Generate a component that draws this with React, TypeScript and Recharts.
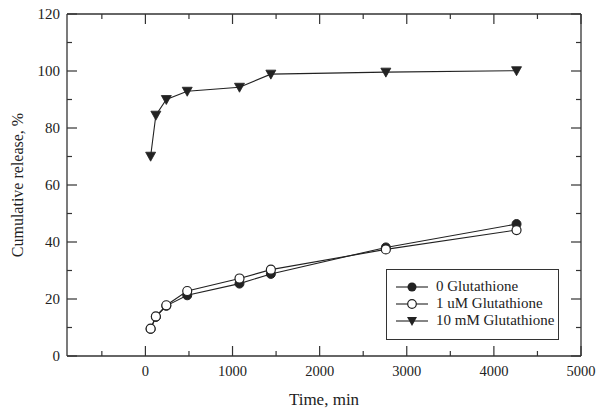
import React from 'react';
import { LineChart, Line, XAxis, YAxis, Legend, Label } from 'recharts';

// sampling times (min) and cumulative release (%)
const times = [60, 120, 240, 480, 1080, 1440, 2760, 4260];
const noGsh = [9.5, 13.7, 17.6, 21.3, 25.4, 28.8, 38.1, 46.3];
const lowGsh = [9.6, 13.9, 17.8, 22.8, 27.2, 30.3, 37.4, 44.2];
const highGsh = [70.1, 84.5, 90.0, 92.9, 94.3, 98.9, 99.6, 100.1];

const seriesNames = ['0 Glutathione', '1 uM Glutathione', '10 mM Glutathione'];
const xTicks = [-500, 0, 500, 1000, 1500, 2000, 2500, 3000, 3500, 4000, 4500, 5000];
const yTicks = [0, 10, 20, 30, 40, 50, 60, 70, 80, 90, 100, 110, 120];
const xDomain = [-900, 5000];

const data = times.map((t, i) => ({ t, a: noGsh[i], b: lowGsh[i], c: highGsh[i] }));

const INK = '#222';
const AXIS = '#333';
const FONT = '"Liberation Serif", "Times New Roman", serif';

// chart geometry
const W = 604;
const H = 417;
const M = { top: 14, right: 22, bottom: 0, left: 0 };
const Y_AXIS_W = 67;
const X_AXIS_H = 61;
const RIGHT_W = 1;
const PLOT_X = M.left + Y_AXIS_W;
const PLOT_W = W - M.left - M.right - Y_AXIS_W - RIGHT_W;

const BottomTick = (props: any) => {
  const { x, y, payload } = props;
  const v = payload.value;
  const major = v % 1000 === 0;
  return (
    <g>
      <line x1={x} x2={x} y1={y} y2={y - (major ? 10 : 5)} stroke={AXIS} strokeWidth={1.2} />
      {major && v >= 0 && (
        <text x={x} y={y + 15} textAnchor="middle" dominantBaseline="central" fill={INK} fontSize={14.5} fontFamily={FONT}>
          {v}
        </text>
      )}
    </g>
  );
};

const LeftTick = (props: any) => {
  const { x, y, payload } = props;
  const v = payload.value;
  const major = v % 20 === 0;
  return (
    <g>
      <line x1={x} x2={x + (major ? 10 : 5)} y1={y} y2={y} stroke={AXIS} strokeWidth={1.2} />
      {major && (
        <text x={x - 7} y={y} textAnchor="end" dominantBaseline="central" fill={INK} fontSize={15} fontFamily={FONT}>
          {v}
        </text>
      )}
    </g>
  );
};

const RightTick = (props: any) => {
  const { x, y, payload } = props;
  const major = payload.value % 20 === 0;
  return <line x1={x} x2={x - (major ? 10 : 5)} y1={y} y2={y} stroke={AXIS} strokeWidth={1.2} />;
};

// top frame of the box with its inward ticks
const TopFrame = () => {
  const sx = (v: number) => PLOT_X + ((v - xDomain[0]) / (xDomain[1] - xDomain[0])) * PLOT_W;
  const y = M.top;
  return (
    <svg
      width={W}
      height={40}
      style={{ position: 'absolute', left: 0, top: 0, pointerEvents: 'none', overflow: 'visible' }}
    >
      <line x1={PLOT_X} x2={PLOT_X + PLOT_W} y1={y} y2={y} stroke={AXIS} strokeWidth={1.3} />
      {xTicks.map((v) => (
        <line key={v} x1={sx(v)} x2={sx(v)} y1={y} y2={y + (v % 1000 === 0 ? 10 : 5)} stroke={AXIS} strokeWidth={1.2} />
      ))}
    </svg>
  );
};

const filledDot = (p: any) => (
  <circle key={`a-${p.index}`} cx={p.cx} cy={p.cy} r={4.5} fill={INK} stroke={INK} strokeWidth={1} />
);
const openDot = (p: any) => (
  <circle key={`b-${p.index}`} cx={p.cx} cy={p.cy} r={4.5} fill="#fff" stroke={INK} strokeWidth={1.2} />
);
const triDot = (p: any) => (
  <path
    key={`c-${p.index}`}
    d={`M${p.cx - 5},${p.cy - 4} L${p.cx + 5},${p.cy - 4} L${p.cx},${p.cy + 5} Z`}
    fill={INK}
    stroke={INK}
    strokeWidth={0.8}
  />
);

const LegendIcon = ({ kind }: { kind: number }) => (
  <svg width={49} height={14} style={{ display: 'block', flex: 'none' }}>
    <line x1={9} x2={41} y1={7} y2={7} stroke={INK} strokeWidth={1.1} />
    {kind === 0 && <circle cx={25} cy={7} r={4.5} fill={INK} />}
    {kind === 1 && <circle cx={25} cy={7} r={4.3} fill="#fff" stroke={INK} strokeWidth={1.2} />}
    {kind === 2 && <path d="M20,3 L30,3 L25,12 Z" fill={INK} />}
  </svg>
);

const renderLegend = () => (
  <div
    style={{
      width: 171,
      height: 61,
      paddingTop: 8,
      border: `1px solid ${AXIS}`,
      background: '#fff',
      fontFamily: FONT,
      fontSize: 15,
      color: INK,
    }}
  >
    {seriesNames.map((name, i) => (
      <div key={name} style={{ display: 'flex', alignItems: 'center', height: 17 }}>
        <LegendIcon kind={i} />
        <span style={{ whiteSpace: 'nowrap' }}>{name}</span>
      </div>
    ))}
  </div>
);

const YTitle = (props: any) => {
  const vb = props.viewBox;
  const cx = vb.x + 17;
  const cy = vb.y + vb.height / 2;
  return (
    <text
      x={cx}
      y={cy}
      transform={`rotate(-90 ${cx} ${cy})`}
      textAnchor="middle"
      dominantBaseline="central"
      fill={INK}
      fontSize={16}
      fontFamily={FONT}
    >
      Cumulative release, %
    </text>
  );
};

export default function App() {
  return (
    <div style={{ position: 'absolute', left: 0, top: 0, width: W, height: H, background: '#fff' }}>
      <LineChart width={W} height={H} data={data} margin={M}>
        <XAxis
          dataKey="t"
          type="number"
          domain={xDomain}
          ticks={xTicks}
          interval={0}
          height={X_AXIS_H}
          tickSize={0}
          tickMargin={0}
          tick={<BottomTick />}
          axisLine={{ stroke: AXIS, strokeWidth: 1.3 }}
          tickLine={false}
        >
          <Label value="Time, min" position="insideBottom" offset={12} fill={INK} fontSize={17} fontFamily={FONT} />
        </XAxis>
        <YAxis
          type="number"
          domain={[0, 120]}
          ticks={yTicks}
          interval={0}
          width={Y_AXIS_W}
          tickSize={0}
          tickMargin={0}
          tick={<LeftTick />}
          axisLine={{ stroke: AXIS, strokeWidth: 1.3 }}
          tickLine={false}
        >
          <Label content={<YTitle />} />
        </YAxis>
        <YAxis
          yAxisId={2}
          orientation="right"
          type="number"
          domain={[0, 120]}
          ticks={yTicks}
          interval={0}
          width={RIGHT_W}
          tickSize={0}
          tickMargin={0}
          tick={<RightTick />}
          axisLine={{ stroke: AXIS, strokeWidth: 1.3 }}
          tickLine={false}
        />
        <Legend
          layout="vertical"
          align="center"
          verticalAlign="middle"
          content={renderLegend}
          wrapperStyle={{ left: 386, top: 269, width: 173, height: 69 }}
        />
        {/* invisible series so the right frame axis gets drawn */}
        <Line
          yAxisId={2}
          dataKey="c"
          stroke="none"
          dot={false}
          activeDot={false}
          legendType="none"
          isAnimationActive={false}
        />
        <Line dataKey="c" name={seriesNames[2]} stroke={INK} strokeWidth={1.1} dot={triDot} isAnimationActive={false} />
        <Line dataKey="a" name={seriesNames[0]} stroke={INK} strokeWidth={1.1} dot={filledDot} isAnimationActive={false} />
        <Line dataKey="b" name={seriesNames[1]} stroke={INK} strokeWidth={1.1} dot={openDot} isAnimationActive={false} />
      </LineChart>
      <TopFrame />
    </div>
  );
}
